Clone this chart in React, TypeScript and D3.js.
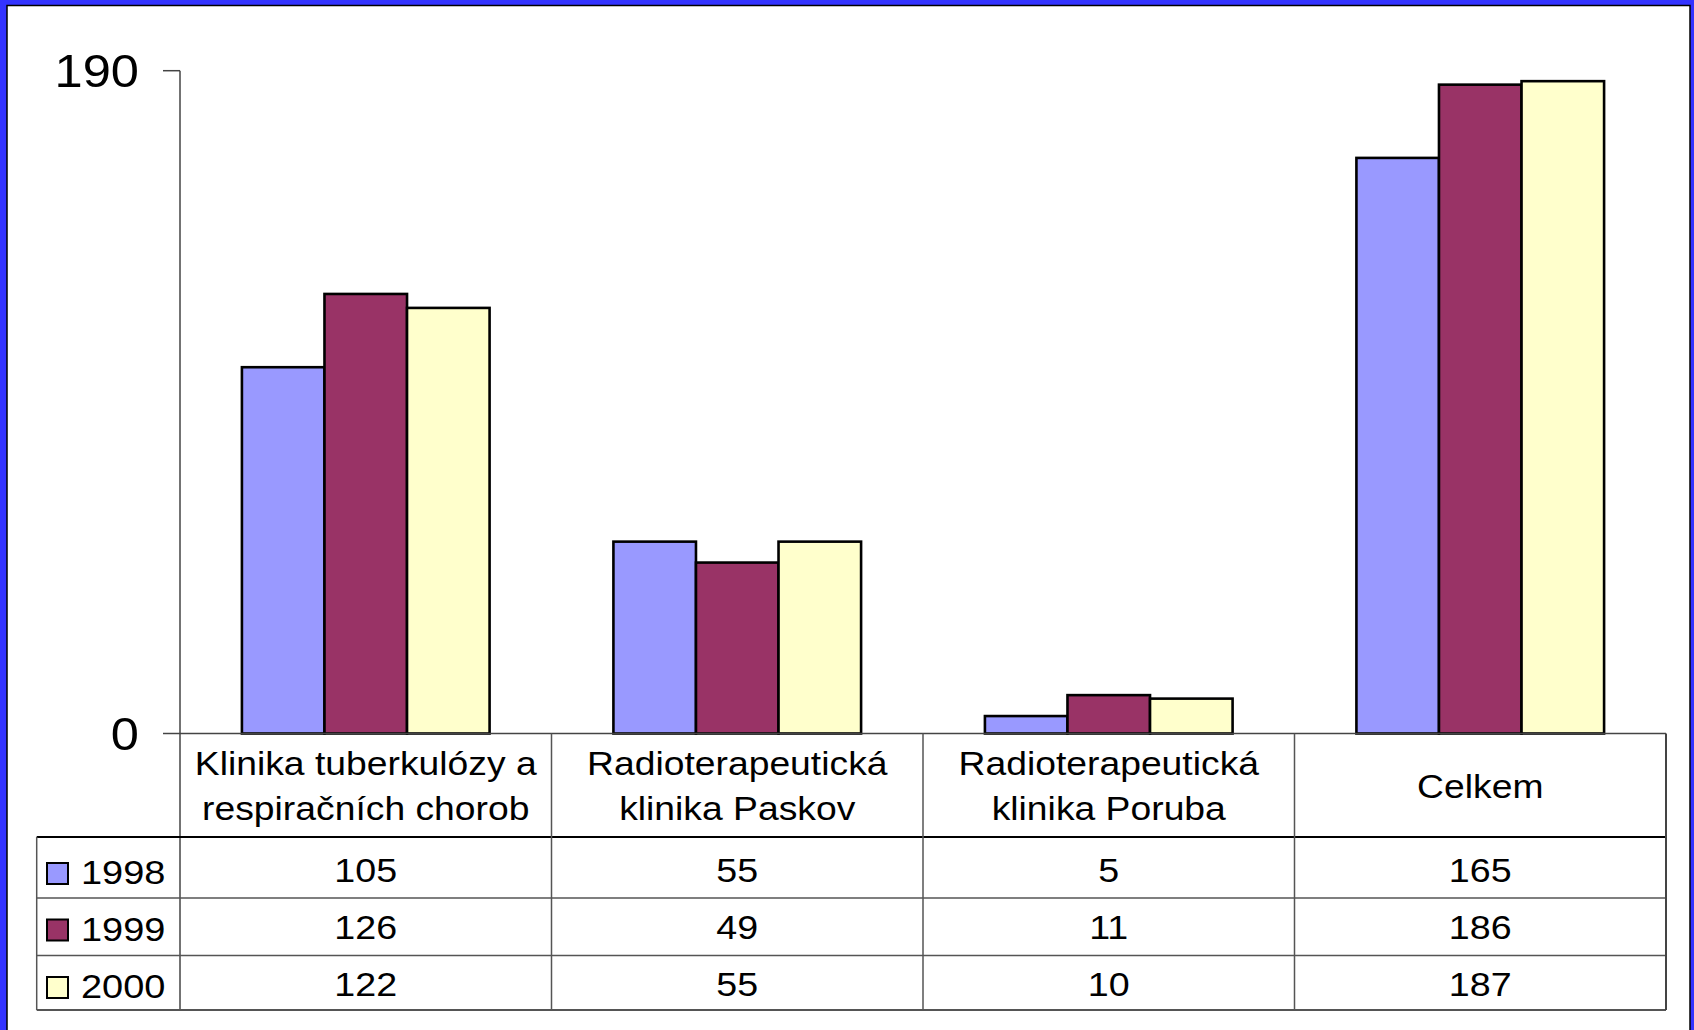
import React from "react";
import * as d3 from "d3";

const categories: string[][] = [
  ["Klinika tuberkulózy a", "respiračních chorob"],
  ["Radioterapeutická", "klinika Paskov"],
  ["Radioterapeutická", "klinika Poruba"],
  ["Celkem"],
];
const seriesNames = ["1998", "1999", "2000"];
const values1998 = [105, 55, 5, 165];
const values1999 = [126, 49, 11, 186];
const values2000 = [122, 55, 10, 187];
const seriesColors = ["#9999FF", "#993366", "#FFFFCC"];
const yTicks = [0, 190];

const W = 1694;
const H = 1030;
const FONT = "Liberation Sans, Arial, sans-serif";

function SText({ x, y, size, sx, anchor, children }: any) {
  return (
    <text
      transform={`translate(${x},${y}) scale(${sx},1)`}
      fontSize={size}
      fontFamily={FONT}
      textAnchor={anchor}
      fill="#000"
    >
      {children}
    </text>
  );
}

export default function App() {
  const series = [values1998, values1999, values2000];
  const left = 180;
  const right = 1666;
  const y = d3.scaleLinear().domain([0, 190]).range([733.5, 70.7]);
  const x0 = d3
    .scaleBand<number>()
    .domain(categories.map((_, i) => i))
    .range([left, right]);
  const bw = x0.bandwidth();
  const barW = bw / 4.5;
  const x1 = d3
    .scaleBand<number>()
    .domain(seriesNames.map((_, i) => i))
    .range([0.75 * barW, bw - 0.75 * barW]);

  const headerBottom = 837;
  const rowLines = [898, 955.5];
  const tableBottom = 1010;
  const rowBaselines = [882, 938.5, 996];
  const tableLeft = 36.7;

  return (
    <svg
      width={W}
      height={H}
      style={{ position: "absolute", left: 0, top: 0 }}
    >
      <rect x={0} y={0} width={W} height={H} fill="#3333FF" />
      <rect x={7} y={5.5} width={1683} height={H} fill="#fff" stroke="#000" strokeWidth={1.5} />

      {/* y axis */}
      <line x1={left} y1={y(190)} x2={left} y2={tableBottom} stroke="#444" strokeWidth={1.5} />
      {yTicks.map((t) => (
        <g key={t}>
          <line x1={163} x2={left} y1={y(t)} y2={y(t)} stroke="#444" strokeWidth={1.5} />
          <SText x={139} y={y(t) + 16.5} size={46} sx={1.1} anchor="end">
            {t}
          </SText>
        </g>
      ))}

      {/* bars */}
      {categories.map((_, ci) =>
        series.map((vals, si) => (
          <rect
            key={`${ci}-${si}`}
            x={(x0(ci) as number) + (x1(si) as number)}
            y={y(vals[ci])}
            width={x1.bandwidth()}
            height={y(0) - y(vals[ci])}
            fill={seriesColors[si]}
            stroke="#000"
            strokeWidth={2.6}
          />
        ))
      )}

      {/* table */}
      <line x1={left} x2={right} y1={y(0)} y2={y(0)} stroke="#444" strokeWidth={1.5} />
      <line x1={tableLeft} x2={right} y1={headerBottom} y2={headerBottom} stroke="#000" strokeWidth={1.8} />
      {rowLines.map((ry) => (
        <line key={ry} x1={tableLeft} x2={right} y1={ry} y2={ry} stroke="#555" strokeWidth={1.5} />
      ))}
      <line x1={tableLeft} x2={right} y1={tableBottom} y2={tableBottom} stroke="#555" strokeWidth={2} />
      <line x1={tableLeft} x2={tableLeft} y1={headerBottom} y2={tableBottom} stroke="#555" strokeWidth={1.5} />
      {categories.map((_, ci) => (
        <line
          key={ci}
          x1={(x0(ci) as number) + bw}
          x2={(x0(ci) as number) + bw}
          y1={y(0)}
          y2={tableBottom}
          stroke={ci === categories.length - 1 ? "#444" : "#555"}
          strokeWidth={ci === categories.length - 1 ? 2 : 1.5}
        />
      ))}

      {/* header labels */}
      {categories.map((lines, ci) => {
        const cx = (x0(ci) as number) + bw / 2;
        const base = lines.length === 1 ? [797.5] : [775, 820];
        return lines.map((ln, li) => (
          <SText key={`${ci}-${li}`} x={cx} y={base[li]} size={33} sx={1.13} anchor="middle">
            {ln}
          </SText>
        ));
      })}

      {/* legend + values */}
      {seriesNames.map((name, si) => (
        <g key={name}>
          <rect
            x={47}
            y={rowBaselines[si] + 2 - 21}
            width={21}
            height={21}
            fill={seriesColors[si]}
            stroke="#000"
            strokeWidth={2}
          />
          <SText x={81} y={rowBaselines[si] + 2} size={33} sx={1.15} anchor="start">
            {name}
          </SText>
          {categories.map((_, ci) => (
            <SText
              key={ci}
              x={(x0(ci) as number) + bw / 2}
              y={rowBaselines[si]}
              size={33}
              sx={1.14}
              anchor="middle"
            >
              {series[si][ci]}
            </SText>
          ))}
        </g>
      ))}
    </svg>
  );
}
